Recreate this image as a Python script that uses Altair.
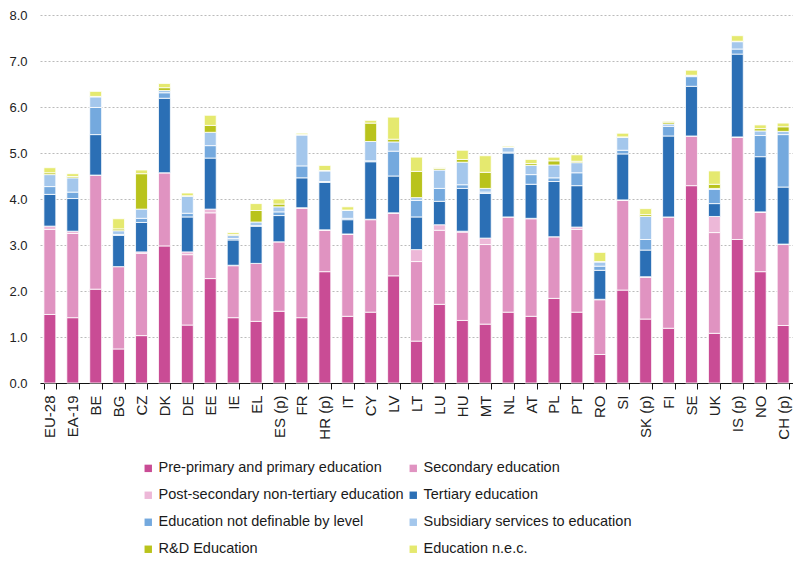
import altair as alt
import pandas as pd

countries = ["EU-28", "EA-19", "BE", "BG", "CZ", "DK", "DE", "EE", "IE", "EL", "ES (p)", "FR",
             "HR (p)", "IT", "CY", "LV", "LT", "LU", "HU", "MT", "NL", "AT", "PL", "PT", "RO",
             "SI", "SK (p)", "FI", "SE", "UK", "IS (p)", "NO", "CH (p)"]

categories = ["Pre-primary and primary education", "Secondary education",
              "Post-secondary non-tertiary education", "Tertiary education",
              "Education not definable by level", "Subsidiary services to education",
              "R&D Education", "Education n.e.c."]

pre_primary = [1.49, 1.42, 2.04, 0.74, 1.03, 2.98, 1.26, 2.27, 1.42, 1.34, 1.56, 1.42,
               2.42, 1.45, 1.54, 2.33, 0.91, 1.71, 1.36, 1.28, 1.54, 1.45, 1.84, 1.54, 0.62,
               2.02, 1.39, 1.19, 4.29, 1.08, 3.12, 2.42, 1.25]
secondary = [1.85, 1.83, 2.48, 1.79, 1.79, 1.59, 1.53, 1.43, 1.13, 1.26, 1.51, 2.38,
             0.90, 1.78, 2.01, 1.36, 1.73, 1.61, 1.92, 1.73, 2.07, 2.12, 1.34, 1.80, 1.19,
             1.95, 0.91, 2.42, 1.08, 2.19, 2.22, 1.29, 1.76]
post_secondary = [0.07, 0.05, 0.00, 0.00, 0.03, 0.00, 0.06, 0.08, 0.01, 0.00, 0.00, 0.01,
                  0.01, 0.01, 0.01, 0.01, 0.26, 0.12, 0.02, 0.14, 0.00, 0.01, 0.00, 0.05, 0.01,
                  0.01, 0.01, 0.00, 0.00, 0.35, 0.01, 0.01, 0.01]
tertiary = [0.69, 0.71, 0.88, 0.68, 0.64, 1.62, 0.76, 1.11, 0.55, 0.81, 0.57, 0.65,
            1.03, 0.31, 1.25, 0.80, 0.71, 0.51, 0.93, 0.97, 1.39, 0.74, 1.20, 0.90, 0.63,
            1.00, 0.58, 1.76, 1.08, 0.28, 1.80, 1.20, 1.24]
not_definable = [0.17, 0.14, 0.59, 0.02, 0.09, 0.12, 0.08, 0.27, 0.03, 0.01, 0.08, 0.26,
                 0.02, 0.03, 0.02, 0.54, 0.36, 0.28, 0.08, 0.03, 0.02, 0.21, 0.08, 0.28, 0.09,
                 0.08, 0.23, 0.21, 0.21, 0.31, 0.11, 0.46, 1.14]
subsidiary = [0.26, 0.31, 0.23, 0.08, 0.20, 0.05, 0.37, 0.29, 0.07, 0.08, 0.11, 0.67,
              0.23, 0.17, 0.42, 0.20, 0.06, 0.40, 0.49, 0.08, 0.10, 0.20, 0.28, 0.22, 0.09,
              0.28, 0.50, 0.05, 0.02, 0.02, 0.16, 0.10, 0.07]
rd_education = [0.04, 0.03, 0.01, 0.04, 0.77, 0.06, 0.01, 0.15, 0.02, 0.25, 0.06, 0.01,
                0.01, 0.01, 0.40, 0.06, 0.57, 0.03, 0.06, 0.35, 0.01, 0.04, 0.09, 0.03, 0.01,
                0.01, 0.04, 0.04, 0.01, 0.09, 0.01, 0.05, 0.10]
nec = [0.11, 0.06, 0.11, 0.22, 0.08, 0.09, 0.06, 0.22, 0.04, 0.15, 0.11, 0.03,
       0.11, 0.07, 0.06, 0.48, 0.31, 0.02, 0.20, 0.36, 0.02, 0.09, 0.08, 0.14, 0.20,
       0.08, 0.13, 0.02, 0.11, 0.29, 0.12, 0.08, 0.08]

colors = ["#C94C95", "#E093C1", "#EDB8D8", "#2B6FB5", "#74A9DE", "#A4C7EC", "#B9C31C", "#E5E96F"]

series = [pre_primary, secondary, post_secondary, tertiary, not_definable, subsidiary,
          rd_education, nec]

rows = []
for k, (cat, vals) in enumerate(zip(categories, series)):
    for c, v in zip(countries, vals):
        rows.append({"country": c, "category": cat, "value": v, "order": k})
df = pd.DataFrame(rows)

font = "Liberation Sans"

chart = alt.Chart(df).mark_bar(stroke="white", strokeWidth=0.8).encode(
    x=alt.X("country:N", sort=countries, title=None,
            scale=alt.Scale(paddingInner=0.48, paddingOuter=0.17),
            axis=alt.Axis(labelAngle=-90, labelFontSize=15, labelColor="#222",
                          labelFont=font, tickBand="extent",
                          domainColor="#111", tickColor="#111", tickSize=6,
                          labelPadding=6, grid=False)),
    y=alt.Y("value:Q", stack="zero", title=None,
            scale=alt.Scale(domain=[0, 8], nice=False),
            axis=alt.Axis(values=[0, 1, 2, 3, 4, 5, 6, 7, 8], format=".1f",
                          labelFontSize=13, labelColor="#222", labelFont=font,
                          domain=False, ticks=False, labelPadding=13,
                          gridColor="#bbbbbb", gridDash=[2, 2], gridWidth=1)),
    color=alt.Color("category:N", sort=categories,
                    scale=alt.Scale(domain=categories, range=colors),
                    legend=alt.Legend(title=None, orient="none", legendX=101, legendY=446,
                                      direction="horizontal", columns=2, padding=0,
                                      symbolType="square", symbolSize=55,
                                      symbolStrokeWidth=0, labelFontSize=14.5,
                                      labelFont=font, labelColor="#1a1a1a",
                                      rowPadding=12, columnPadding=2, labelOffset=3,
                                      labelLimit=400)),
    order=alt.Order("order:Q", sort="ascending"),
).properties(
    width=753, height=368,
    autosize=alt.AutoSizeParams(type="none"),
    padding={"left": 32, "top": 7, "right": 0, "bottom": 175}
).configure_view(stroke=None)

chart.save("out.html", embed_options={"renderer": "svg", "actions": False})
